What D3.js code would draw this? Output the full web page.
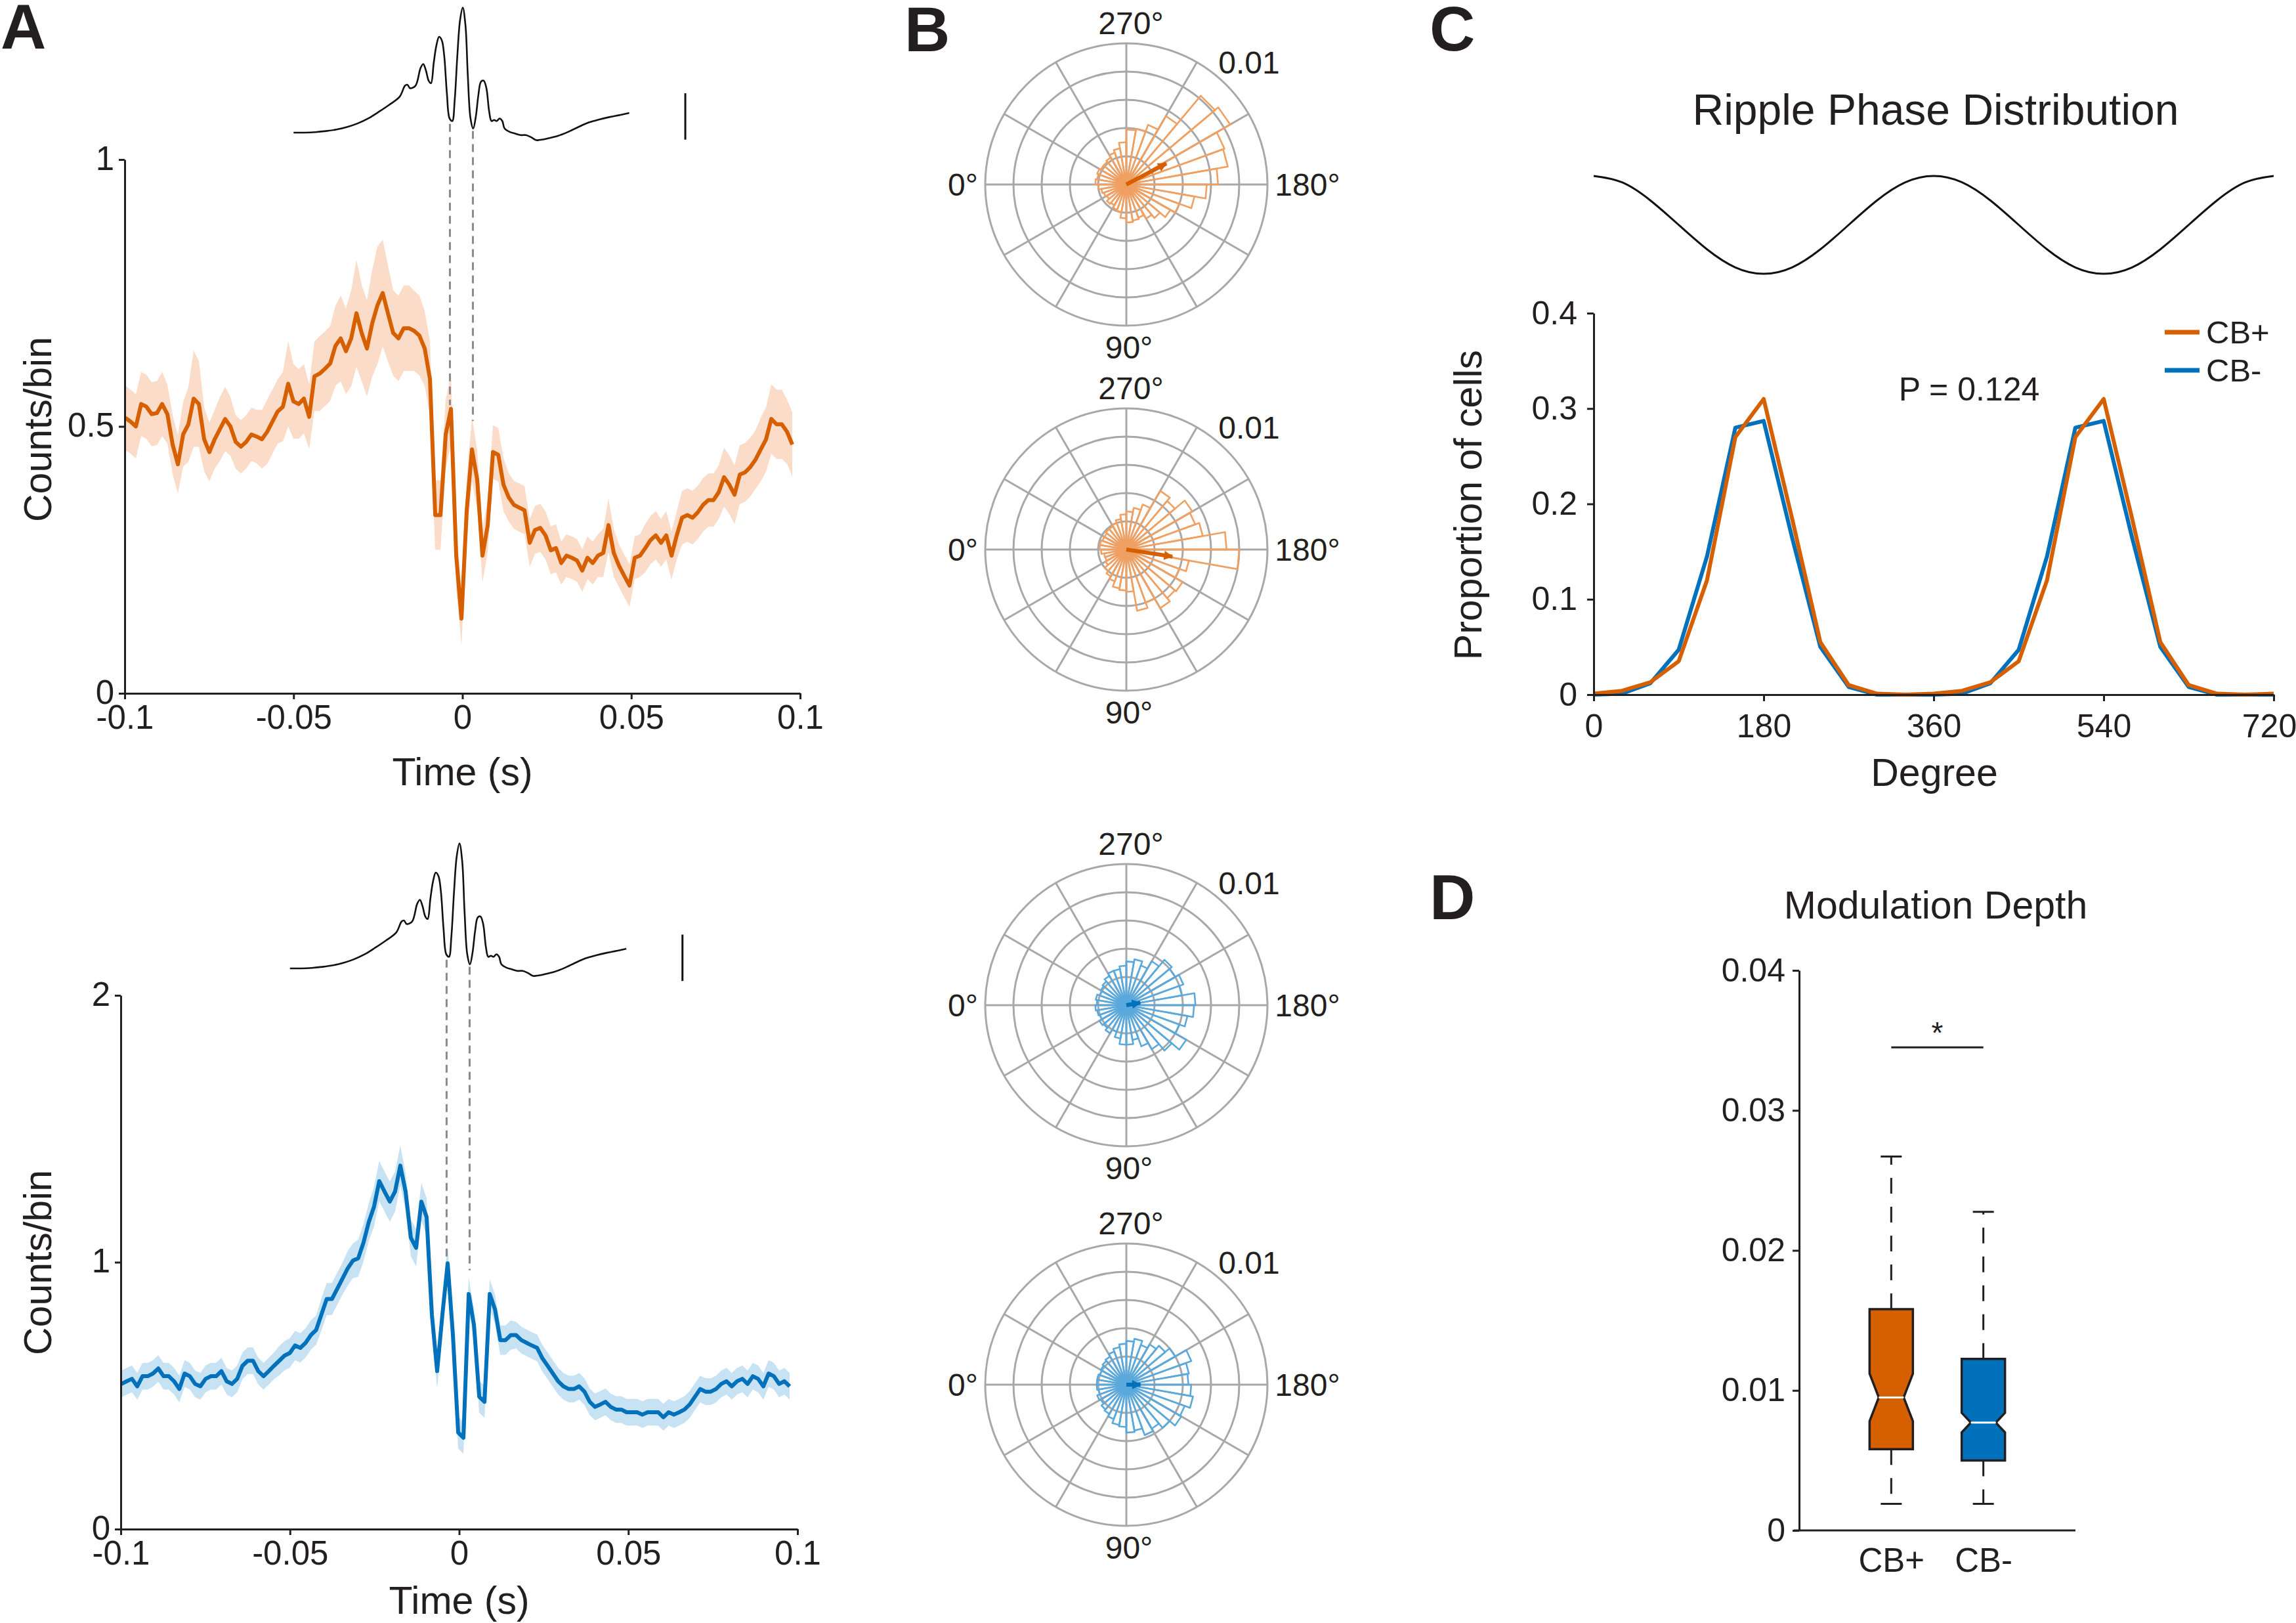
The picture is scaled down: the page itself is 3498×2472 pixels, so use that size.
<!DOCTYPE html>
<html><head><meta charset="utf-8">
<script src="https://cdn.jsdelivr.net/npm/d3@7"></script>
<style>body{margin:0;background:#fff}svg{display:block}</style>
</head><body>
<svg id="fig" width="3498" height="2472" xmlns="http://www.w3.org/2000/svg"></svg>
<script>
// ---------------- DATA ----------------
// Panel A: peri-ripple firing (bins of ~1.55 ms starting at -0.0998 s)
const binStart = -0.0998, binStep = 0.001555;
const countsCBpos = [0.516,0.509,0.500,0.542,0.537,0.523,0.525,0.542,0.523,0.466,
0.429,0.485,0.504,0.552,0.542,0.476,0.452,0.476,0.495,0.514,
0.500,0.471,0.462,0.471,0.485,0.481,0.476,0.490,0.509,0.528,
0.537,0.580,0.547,0.542,0.552,0.518,0.594,0.599,0.608,0.618,
0.651,0.665,0.641,0.665,0.712,0.675,0.646,0.693,0.727,0.750,
0.712,0.675,0.665,0.684,0.684,0.679,0.670,0.646,0.589,0.334,
0.334,0.485,0.533,0.258,0.140,0.343,0.457,0.400,0.258,0.315,
0.452,0.447,0.391,0.367,0.353,0.348,0.343,0.282,0.306,0.310,
0.296,0.268,0.272,0.244,0.258,0.254,0.249,0.230,0.254,0.244,
0.258,0.263,0.315,0.263,0.239,0.220,0.202,0.254,0.258,0.272,
0.287,0.296,0.282,0.296,0.258,0.296,0.329,0.334,0.329,0.339,
0.353,0.362,0.362,0.377,0.405,0.391,0.372,0.410,0.414,0.424,
0.438,0.457,0.476,0.514,0.504,0.504,0.490,0.466];
const semCBpos = [0.06,0.06,0.06,0.06,0.06,0.06,0.06,0.06,0.055,0.055,
0.055,0.06,0.07,0.09,0.08,0.06,0.055,0.055,0.06,0.06,
0.055,0.05,0.05,0.05,0.05,0.05,0.055,0.06,0.06,0.06,
0.065,0.08,0.07,0.065,0.065,0.06,0.065,0.07,0.07,0.07,
0.075,0.08,0.08,0.09,0.10,0.09,0.09,0.10,0.11,0.10,
0.09,0.08,0.08,0.08,0.08,0.075,0.075,0.07,0.07,0.065,
0.065,0.065,0.065,0.06,0.05,0.06,0.06,0.055,0.05,0.05,
0.05,0.05,0.05,0.045,0.045,0.045,0.045,0.045,0.045,0.045,
0.045,0.045,0.045,0.04,0.04,0.04,0.04,0.04,0.04,0.04,
0.04,0.045,0.05,0.045,0.04,0.04,0.04,0.04,0.04,0.045,
0.045,0.045,0.045,0.045,0.045,0.045,0.05,0.05,0.05,0.05,
0.05,0.05,0.05,0.05,0.055,0.055,0.055,0.055,0.055,0.055,
0.055,0.06,0.06,0.065,0.065,0.065,0.06,0.06];
const countsCBneg = [0.544,0.554,0.563,0.535,0.573,0.573,0.583,0.602,0.573,0.573,
0.554,0.525,0.583,0.573,0.544,0.535,0.563,0.573,0.573,0.592,
0.554,0.544,0.563,0.612,0.631,0.631,0.592,0.573,0.592,0.612,
0.631,0.650,0.660,0.688,0.679,0.698,0.727,0.746,0.804,0.862,
0.862,0.900,0.938,0.977,1.006,1.015,1.073,1.150,1.208,1.304,
1.265,1.227,1.265,1.362,1.265,1.092,1.054,1.227,1.169,0.804,
0.592,0.804,0.996,0.727,0.362,0.342,0.881,0.765,0.496,0.477,
0.881,0.823,0.708,0.708,0.727,0.727,0.708,0.698,0.688,0.679,
0.640,0.612,0.583,0.554,0.535,0.525,0.525,0.535,0.515,0.477,
0.458,0.467,0.477,0.458,0.448,0.448,0.438,0.438,0.438,0.429,
0.438,0.438,0.438,0.419,0.438,0.429,0.438,0.448,0.467,0.496,
0.525,0.515,0.515,0.525,0.544,0.554,0.535,0.554,0.563,0.544,
0.573,0.563,0.535,0.583,0.573,0.544,0.554,0.535];
const semCBneg = [0.05,0.05,0.05,0.05,0.05,0.05,0.05,0.05,0.05,0.05,
0.05,0.05,0.05,0.05,0.05,0.05,0.05,0.05,0.05,0.05,
0.05,0.05,0.05,0.05,0.05,0.05,0.05,0.05,0.05,0.05,
0.055,0.055,0.055,0.055,0.055,0.055,0.055,0.055,0.06,0.06,
0.06,0.06,0.06,0.065,0.065,0.07,0.07,0.07,0.075,0.075,
0.075,0.075,0.075,0.075,0.07,0.07,0.07,0.07,0.07,0.065,
0.065,0.065,0.065,0.06,0.06,0.06,0.06,0.06,0.06,0.06,
0.055,0.055,0.055,0.055,0.055,0.05,0.05,0.05,0.05,0.05,
0.05,0.05,0.05,0.05,0.05,0.05,0.05,0.05,0.05,0.05,
0.05,0.05,0.05,0.05,0.05,0.05,0.05,0.05,0.05,0.05,
0.05,0.05,0.05,0.05,0.05,0.05,0.05,0.05,0.05,0.05,
0.05,0.05,0.05,0.05,0.05,0.05,0.05,0.05,0.05,0.05,
0.05,0.05,0.05,0.05,0.05,0.05,0.05,0.05];
const timeTicks = [-0.1, -0.05, 0, 0.05, 0.1];
const countTicksTop = [0, 0.5, 1];
const countTicksBottom = [0, 1, 2];
// averaged ripple LFP (ms, arbitrary units)
const lfpTimeMs = [-50,-46.6,-43.5,-40.4,-37.3,-34.2,-31.1,-27.9,-24.8,-21.7,
-18.6,-17.0,-16.3,-15.5,-13.9,-12.4,-11.6,-10.8,-10.0,-9.3,
-8.5,-7.7,-6.9,-6.1,-5.4,-4.6,-3.8,-3.0,-2.3,-1.5,
-0.7,0.1,0.9,1.6,2.4,3.2,4.0,4.7,5.5,6.3,
7.1,7.9,8.6,9.4,10.2,11.0,11.8,12.5,14.1,15.6,
17.2,18.8,20.3,21.9,23.4,25.0,28.1,31.2,34.3,37.4,
40.5,43.7,46.8,49.4];
const lfpValue = [17,17,18,20,23,28,35,45,58,72,
88,110,112,105,110,145,153,140,120,115,
155,190,207,200,170,95,45,40,80,170,
240,265,230,130,45,25,50,90,118,120,
105,60,40,42,40,45,40,25,18,15,
12,12,8,2,3,5,10,18,28,37,
43,48,52,56];
const troughTimes = [-0.0037, 0.0031];
const troughLfp = [42, 28];
const dashEndTop = [0.54, 0.51];
const dashEndBottom = [1.0, 0.97];

// Panel B: rose histograms (36 bins, bin centres in degrees)
const roseBinDeg = [5,15,25,35,45,55,65,75,85,95,105,115,125,135,145,155,165,175,185,195,205,215,225,235,245,255,265,275,285,295,305,315,325,335,345,355];
const roseCBpos1 = [0.0020,0.0018,0.0017,0.0016,0.0018,0.0017,0.0019,0.0020,0.0024,0.0027,0.0026,0.0025,0.0028,0.0031,0.0036,0.0040,0.0049,0.0057,0.0065,0.0073,0.0074,0.0085,0.0082,0.0056,0.0045,0.0040,0.0039,0.0030,0.0026,0.0024,0.0022,0.0021,0.0021,0.0022,0.0021,0.0022];
const roseCBpos2 = [0.0018,0.0016,0.0016,0.0017,0.0020,0.0022,0.0024,0.0028,0.0029,0.0030,0.0044,0.0040,0.0048,0.0045,0.0046,0.0040,0.0045,0.0080,0.0071,0.0055,0.0052,0.0054,0.0045,0.0048,0.0034,0.0030,0.0027,0.0025,0.0022,0.0020,0.0019,0.0019,0.0018,0.0018,0.0019,0.0019];
const roseCBneg1 = [0.0022,0.0021,0.0020,0.0022,0.0021,0.0023,0.0020,0.0024,0.0028,0.0028,0.0025,0.0031,0.0036,0.0042,0.0049,0.0040,0.0044,0.0048,0.0049,0.0040,0.0043,0.0040,0.0042,0.0036,0.0030,0.0033,0.0031,0.0028,0.0026,0.0026,0.0024,0.0022,0.0021,0.0020,0.0022,0.0021];
const roseCBneg2 = [0.0021,0.0020,0.0022,0.0021,0.0023,0.0024,0.0026,0.0029,0.0030,0.0034,0.0033,0.0038,0.0036,0.0040,0.0045,0.0044,0.0048,0.0046,0.0044,0.0045,0.0049,0.0040,0.0036,0.0033,0.0030,0.0033,0.0031,0.0029,0.0027,0.0025,0.0023,0.0022,0.0021,0.0020,0.0021,0.0021];
const meanAngleDeg = [207.7, 171.3, 190, 180];
const meanLength = [0.0032, 0.0033, 0.0010, 0.0010];
const roseRings = [0.002, 0.004, 0.006, 0.008, 0.01];
const spokeDeg = [0, 30, 60, 90, 120, 150];

// Panel C: ripple phase distribution
const phaseDeg = [0,30,60,90,120,150,180,210,240,270,300,330,360,390,420,450,480,510,540,570,600,630,660,690,720];
const propCBpos = [0.001,0.004,0.013,0.035,0.12,0.27,0.31,0.185,0.055,0.01,0.001,0.0,0.001,0.004,0.013,0.035,0.12,0.27,0.31,0.185,0.055,0.01,0.001,0.0,0.001];
const propCBneg = [0.0,0.001,0.012,0.047,0.145,0.28,0.287,0.165,0.05,0.008,0.0,0.0,0.0,0.001,0.012,0.047,0.145,0.28,0.287,0.165,0.05,0.008,0.0,0.0,0.0];
const rippleWave = [1,0.87,0.5,0,-0.5,-0.87,-1,-0.87,-0.5,0,0.5,0.87,1,0.87,0.5,0,-0.5,-0.87,-1,-0.87,-0.5,0,0.5,0.87,1];
const degreeTicks = [0,180,360,540,720];
const propTicks = [0,0.1,0.2,0.3,0.4];

// Panel D: modulation depth boxplots
const groups = ["CB+", "CB-"];
const boxQ1 = [0.0058, 0.0050];
const boxQ3 = [0.0158, 0.01225];
const boxMedian = [0.0095, 0.0077];
const notchLo = [0.0078, 0.0070];
const notchHi = [0.0112, 0.0084];
const whiskerLo = [0.0019, 0.0019];
const whiskerHi = [0.0267, 0.02275];
const depthTicks = [0, 0.01, 0.02, 0.03, 0.04];

// ---------------- STYLE ----------------
const FONT = '"Liberation Sans", Arial, Helvetica, sans-serif';
const INK = '#231f20';
const ORANGE = '#D65F00', BLUE = '#0071BA';
const ORANGE_L = '#FADCC8', BLUE_L = '#C6E2F3';
const ROSE_O = '#EFA062', ROSE_B = '#5BA9DC';
const GRID = '#A8A8A8';

const svg = d3.select('#fig');
svg.append('rect').attr('width', 3498).attr('height', 2472).attr('fill', '#fff');

function styleAxis(g, fs) {
  g.attr('font-family', FONT).attr('font-size', fs);
  g.select('.domain').attr('stroke', INK).attr('stroke-width', 3);
  g.selectAll('.tick line').attr('stroke', INK).attr('stroke-width', 3);
  g.selectAll('.tick text').attr('fill', INK);
}
function text(x, y, s, fs, opts = {}) {
  const t = svg.append('text').attr('x', x).attr('y', y).text(s)
    .attr('font-family', FONT).attr('font-size', fs).attr('fill', INK)
    .attr('text-anchor', opts.anchor || 'middle');
  if (opts.bold) t.attr('font-weight', 'bold');
  if (opts.rotate) t.attr('transform', `rotate(${opts.rotate},${x},${y})`);
  return t;
}

// ---------------- PANEL A ----------------
function tracePanel(cfg) {
  const x = d3.scaleLinear().domain([-0.1, 0.1]).range(cfg.xr);
  const y = d3.scaleLinear().domain(cfg.yd).range(cfg.yr);
  const yL = d3.scaleLinear().domain([0, 280]).range(cfg.lfpR);
  const pts = cfg.counts.map((v, i) => ({t: binStart + i * binStep, v, s: cfg.sem[i]}));
  svg.append('path').datum(pts)
    .attr('d', d3.area().x(d => x(d.t)).y0(d => y(d.v - d.s)).y1(d => y(d.v + d.s)))
    .attr('fill', cfg.light).attr('stroke', 'none');
  svg.append('path').datum(pts)
    .attr('d', d3.line().x(d => x(d.t)).y(d => y(d.v)))
    .attr('fill', 'none').attr('stroke', cfg.color).attr('stroke-width', 6).attr('stroke-linejoin', 'round');
  // LFP
  const lfp = lfpTimeMs.map((t, i) => ({t: t / 1000, v: lfpValue[i]}));
  svg.append('path').datum(lfp)
    .attr('d', d3.line().curve(d3.curveCatmullRom.alpha(0.5)).x(d => x(d.t)).y(d => yL(d.v)))
    .attr('fill', 'none').attr('stroke', '#111').attr('stroke-width', 2.6);
  // scale bar
  svg.append('line').attr('x1', x(0.066)).attr('x2', x(0.066))
    .attr('y1', yL(cfg.barBase)).attr('y2', yL(cfg.barBase + 92))
    .attr('stroke', '#111').attr('stroke-width', 3);
  // dashed guide lines
  troughTimes.forEach((t, i) => {
    svg.append('line').attr('x1', x(t)).attr('x2', x(t))
      .attr('y1', yL(troughLfp[i]) + 6).attr('y2', y(cfg.dashEnd[i]))
      .attr('stroke', '#8a8a8a').attr('stroke-width', 3).attr('stroke-dasharray', '12,8');
  });
  const gx = svg.append('g').attr('transform', `translate(0,${cfg.yr[0]})`)
    .call(d3.axisBottom(x).tickValues(timeTicks).tickFormat(d => String(d)).tickSize(9).tickPadding(9).tickSizeOuter(0));
  styleAxis(gx, 51);
  const gy = svg.append('g').attr('transform', `translate(${cfg.xr[0]},0)`)
    .call(d3.axisLeft(y).tickValues(cfg.yTicks).tickFormat(d => String(d)).tickSize(9).tickPadding(7).tickSizeOuter(0));
  styleAxis(gy, 51);
  gy.selectAll('.tick text').attr('dy', '0.30em');
  text((cfg.xr[0] + cfg.xr[1]) / 2, cfg.timeLabelY, 'Time (s)', 59);
  text(78, cfg.countsY, 'Counts/bin', 59, {rotate: -90});
}
tracePanel({xr: [190, 1219], yd: [0, 1], yr: [1056, 243], lfpR: [215, 0], counts: countsCBpos, sem: semCBpos,
  color: ORANGE, light: ORANGE_L, yTicks: countTicksTop, barBase: 3, dashEnd: dashEndTop, timeLabelY: 1196, countsY: 654});
tracePanel({xr: [184, 1215], yd: [0, 2], yr: [2329, 1516], lfpR: [1488, 1273], counts: countsCBneg, sem: semCBneg,
  color: BLUE, light: BLUE_L, yTicks: countTicksBottom, barBase: -8, dashEnd: dashEndBottom, timeLabelY: 2458, countsY: 1923});

// ---------------- PANEL B ----------------
const defs = svg.append('defs');
[['arrO', ORANGE], ['arrB', BLUE]].forEach(([id, c]) => {
  defs.append('marker').attr('id', id).attr('viewBox', '0 0 10 10').attr('refX', 9).attr('refY', 5)
    .attr('markerWidth', 20).attr('markerHeight', 14).attr('markerUnits', 'userSpaceOnUse').attr('orient', 'auto')
    .append('path').attr('d', 'M0,0 L10,5 L0,10 Z').attr('fill', c);
});
function rosePanel(cx, cy, values, k, roseColor, arrowColor, markerId) {
  const r = d3.scaleLinear().domain([0, 0.01]).range([0, 215]);
  const pt = (deg, rad) => [-rad * Math.cos(deg * Math.PI / 180), rad * Math.sin(deg * Math.PI / 180)];
  const g = svg.append('g').attr('transform', `translate(${cx},${cy})`);
  roseRings.forEach(v => g.append('circle').attr('r', r(v)).attr('fill', 'none').attr('stroke', GRID).attr('stroke-width', 3));
  spokeDeg.forEach(a => {
    const p1 = pt(a, r(0.01)), p2 = pt(a + 180, r(0.01));
    g.append('line').attr('x1', p1[0]).attr('y1', p1[1]).attr('x2', p2[0]).attr('y2', p2[1])
      .attr('stroke', GRID).attr('stroke-width', 3);
  });
  g.selectAll('path.petal').data(values).enter().append('path').attr('class', 'petal')
    .attr('d', (v, i) => {
      const a = pt(roseBinDeg[i] - 5, r(v)), b = pt(roseBinDeg[i] + 5, r(v));
      return `M0,0L${a[0]},${a[1]}L${b[0]},${b[1]}Z`;
    })
    .attr('fill', 'none').attr('stroke', roseColor).attr('stroke-width', 2.6).attr('stroke-linejoin', 'round');
  const tip = pt(meanAngleDeg[k], r(meanLength[k]));
  g.append('line').attr('x1', 0).attr('y1', 0).attr('x2', tip[0]).attr('y2', tip[1])
    .attr('stroke', arrowColor).attr('stroke-width', 6).attr('marker-end', `url(#${markerId})`);
  const fs = 48;
  const lab = (dx, dy, s, anchor) => g.append('text').attr('x', dx).attr('y', dy + 17).text(s)
    .attr('font-family', FONT).attr('font-size', fs).attr('fill', INK).attr('text-anchor', anchor || 'middle');
  lab(7, -246, '270°');
  lab(4, 248, '90°');
  lab(-249, 0, '0°');
  lab(276, 0, '180°');
  lab(187, -186, '0.01');
}
rosePanel(1716, 281, roseCBpos1, 0, ROSE_O, ORANGE, 'arrO');
rosePanel(1716, 837, roseCBpos2, 1, ROSE_O, ORANGE, 'arrO');
rosePanel(1716, 1531, roseCBneg1, 2, ROSE_B, BLUE, 'arrB');
rosePanel(1716, 2109, roseCBneg2, 3, ROSE_B, BLUE, 'arrB');

// ---------------- PANEL C ----------------
{
  const x = d3.scaleLinear().domain([0, 720]).range([2428, 3464]);
  const y = d3.scaleLinear().domain([0, 0.4]).range([1058, 477]);
  const yw = d3.scaleLinear().domain([-1, 1]).range([417, 268]);
  text(2949, 190, 'Ripple Phase Distribution', 66);
  svg.append('path').datum(phaseDeg.map((d, i) => [d, rippleWave[i]]))
    .attr('d', d3.line().curve(d3.curveNatural).x(d => x(d[0])).y(d => yw(d[1])))
    .attr('fill', 'none').attr('stroke', '#111').attr('stroke-width', 3);
  [[propCBneg, BLUE], [propCBpos, ORANGE]].forEach(([vals, c]) => {
    svg.append('path').datum(phaseDeg.map((d, i) => [d, vals[i]]))
      .attr('d', d3.line().x(d => x(d[0])).y(d => y(d[1])))
      .attr('fill', 'none').attr('stroke', c).attr('stroke-width', 6).attr('stroke-linejoin', 'round');
  });
  const gx = svg.append('g').attr('transform', 'translate(0,1058)')
    .call(d3.axisBottom(x).tickValues(degreeTicks).tickSize(10).tickPadding(19).tickSizeOuter(0));
  styleAxis(gx, 50);
  gx.selectAll('.tick text').filter(d => d === 720).attr('dx', -7);
  const gy = svg.append('g').attr('transform', 'translate(2428,0)')
    .call(d3.axisLeft(y).tickValues(propTicks).tickFormat(d => String(d)).tickSize(10).tickPadding(15).tickSizeOuter(0));
  styleAxis(gy, 50);
  text(2947, 1197, 'Degree', 59);
  text(2257, 769, 'Proportion of cells', 59, {rotate: -90});
  text(3000, 610, 'P = 0.124', 50);
  [['CB+', ORANGE, 506], ['CB-', BLUE, 564]].forEach(([s, c, yy]) => {
    svg.append('line').attr('x1', 3298).attr('x2', 3351).attr('y1', yy).attr('y2', yy)
      .attr('stroke', c).attr('stroke-width', 7);
    text(3361, yy + 17, s, 49, {anchor: 'start'});
  });
}

// ---------------- PANEL D ----------------
{
  const x = d3.scalePoint().domain(groups).range([2741, 3162]).padding(1.0);
  const y = d3.scaleLinear().domain([0, 0.04]).range([2331, 1478]);
  text(2949, 1399, 'Modulation Depth', 59);
  const hw = 33, nw = 19, cap = 16;
  groups.forEach((gname, i) => {
    const xc = x(gname), c = i === 0 ? ORANGE : BLUE;
    // whiskers
    svg.append('line').attr('x1', xc).attr('x2', xc).attr('y1', y(boxQ3[i])).attr('y2', y(whiskerHi[i]))
      .attr('stroke', INK).attr('stroke-width', 3).attr('stroke-dasharray', '24,20');
    svg.append('line').attr('x1', xc).attr('x2', xc).attr('y1', y(boxQ1[i])).attr('y2', y(whiskerLo[i]))
      .attr('stroke', INK).attr('stroke-width', 3).attr('stroke-dasharray', '24,20');
    [whiskerHi[i], whiskerLo[i]].forEach(v => svg.append('line').attr('x1', xc - cap).attr('x2', xc + cap)
      .attr('y1', y(v)).attr('y2', y(v)).attr('stroke', INK).attr('stroke-width', 3));
    const p = [[xc - hw, y(boxQ3[i])], [xc + hw, y(boxQ3[i])], [xc + hw, y(notchHi[i])], [xc + nw, y(boxMedian[i])],
      [xc + hw, y(notchLo[i])], [xc + hw, y(boxQ1[i])], [xc - hw, y(boxQ1[i])], [xc - hw, y(notchLo[i])],
      [xc - nw, y(boxMedian[i])], [xc - hw, y(notchHi[i])]];
    svg.append('path').attr('d', 'M' + p.map(q => q.join(',')).join('L') + 'Z')
      .attr('fill', c).attr('stroke', INK).attr('stroke-width', 3.5).attr('stroke-linejoin', 'miter');
    svg.append('line').attr('x1', xc - nw).attr('x2', xc + nw).attr('y1', y(boxMedian[i])).attr('y2', y(boxMedian[i]))
      .attr('stroke', '#fff').attr('stroke-width', 3);
  });
  // significance
  svg.append('line').attr('x1', x('CB+')).attr('x2', x('CB-')).attr('y1', y(0.0345)).attr('y2', y(0.0345))
    .attr('stroke', INK).attr('stroke-width', 3);
  text((x('CB+') + x('CB-')) / 2, y(0.0345) - 6, '*', 46);
  const gy = svg.append('g').attr('transform', 'translate(2741,0)')
    .call(d3.axisLeft(y).tickValues(depthTicks).tickFormat(d => String(d)).tickSize(10).tickPadding(11).tickSizeOuter(0));
  styleAxis(gy, 50);
  const gx = svg.append('g').attr('transform', 'translate(0,2331)')
    .call(d3.axisBottom(x).tickSize(0).tickPadding(27).tickSizeOuter(0));
  styleAxis(gx, 51);
  gx.select('.domain').attr('d', 'M2733,0H3162');
}

// ---------------- PANEL LETTERS ----------------
text(1, 74, 'A', 96, {anchor: 'start', bold: true});
text(1378, 78, 'B', 96, {anchor: 'start', bold: true});
text(2178, 77, 'C', 96, {anchor: 'start', bold: true});
text(2178, 1400, 'D', 96, {anchor: 'start', bold: true});
</script>
</body></html>
